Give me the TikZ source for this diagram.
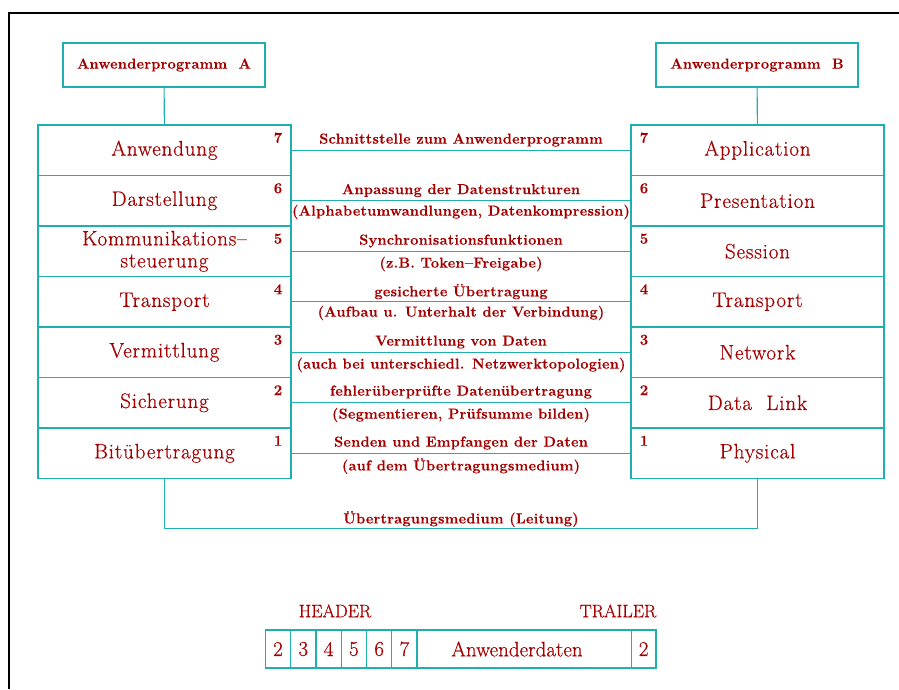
\documentclass[tikz,border=0pt]{standalone}
\usepackage{fontspec}
\setmainfont{Latin Modern Roman}
\newfontfamily\bigf[LetterSpace=4,FakeBold=0.6]{Latin Modern Roman}
\newfontfamily\smf[LetterSpace=2,FakeBold=0.4]{Latin Modern Roman}
\newfontfamily\cellf[FakeBold=0.5]{Latin Modern Roman}
\definecolor{tred}{RGB}{165,0,0}
\definecolor{teal1}{RGB}{30,175,175}
\begin{document}
\begin{tikzpicture}[x=1pt,y=-1pt,
 lay/.style={draw=teal1, line width=1.1pt, minimum width=253pt, minimum height=50.5pt, inner sep=0pt, font=\bigf\fontsize{21}{21}\selectfont, text=tred, align=center},
 app/.style={draw=teal1, line width=1.1pt, minimum width=202pt, minimum height=44pt, inner sep=0pt, font=\smf\bfseries\fontsize{14.5}{16}\selectfont, text=tred},
 lbl/.style={font=\smf\bfseries\fontsize{14.5}{16}\selectfont, text=tred, inner sep=0pt},
 num/.style={font=\smf\bfseries\fontsize{15}{16}\selectfont, text=tred, inner sep=0pt},
 conn/.style={draw=teal1, line width=1.1pt},
 cell/.style={draw=teal1, line width=1.1pt, minimum height=38pt, inner sep=0pt, font=\cellf\fontsize{21}{22}\selectfont, text=tred},
 hdr/.style={font=\cellf\fontsize{18}{20}\selectfont, text=tred, inner sep=0pt}]
\useasboundingbox (0,0) rectangle (899,689);
% frame
\coordinate (fr1) at (9,689);
\coordinate (fr2) at (9,13);
\coordinate (fr3) at (899,13);
\draw[line width=2pt] (fr1) -- (fr2) -- (fr3);
% application programs
\node[app] (appA) at (164,65) {Anwenderprogramm\ \ A};
\node[app] (appB) at (757,65) {Anwenderprogramm\ \ B};
% layers
\foreach \k/\lt/\rt in {7/Anwendung/Application, 6/Darstellung/Presentation, 5/{Kommunikations–\\[1pt]steuerung}/Session, 4/Transport/Transport, 3/Vermittlung/Network, 2/Sicherung/Data\ \ Link, 1/Bitübertragung/Physical}{
  \pgfmathsetmacro{\cy}{125+50.5*(7-\k)+25.25}
  \node[lay] (L\k) at (164.5,\cy) {\lt};
  \node[lay] (R\k) at (757.5,\cy) {\rt};
  \node[num] (nl\k) at (278,\cy-12.5) {\k};
  \node[num] (nr\k) at (644,\cy-12.5) {\k};
  \coordinate (ml\k) at (L\k.east |- 0,\cy);
  \coordinate (mr\k) at (R\k.west |- 0,\cy);
  \draw[conn] (ml\k) -- (mr\k);
}
\draw[conn] (appA) -- (L7);
\draw[conn] (appB) -- (R7);
% middle labels
\node[lbl] (t7a) at (461,140) {Schnittstelle zum Anwenderprogramm};
\node[lbl] (t6a) at (461,190.5) {Anpassung der Datenstrukturen};
\node[lbl] (t6b) at (461,212) {(Alphabetumwandlungen, Datenkompression)};
\node[lbl] (t5a) at (461,241) {Synchronisationsfunktionen};
\node[lbl] (t5b) at (461,264) {(z.B. Token–Freigabe)};
\node[lbl] (t4a) at (461,291.5) {gesicherte Übertragung};
\node[lbl] (t4b) at (461,313) {(Aufbau u. Unterhalt der Verbindung)};
\node[lbl] (t3a) at (461,342) {Vermittlung von Daten};
\node[lbl] (t3b) at (461,365) {(auch bei unterschiedl. Netzwerktopologien)};
\node[lbl] (t2a) at (461,392) {fehlerüberprüfte Datenübertragung};
\node[lbl] (t2b) at (461,415) {(Segmentieren, Prüfsumme bilden)};
\node[lbl] (t1a) at (461,443) {Senden und Empfangen der Daten};
\node[lbl] (t1b) at (461,466) {(auf dem Übertragungsmedium)};
% medium
\coordinate (mA) at (164.5,528.5);
\coordinate (mB) at (757.5,528.5);
\draw[conn] (L1.south) -- (mA) -- (mB) -- (R1.south);
\node[lbl] (med) at (461,519) {Übertragungsmedium (Leitung)};
% frame of packet
\node[hdr] (hd) at (335,611) {HEADER};
\node[hdr] (tr) at (618,611) {TRAILER};
\foreach \i/\d/\xx in {1/2/278, 2/3/303.3, 3/4/328.6, 4/5/353.9, 5/6/379.2, 6/7/404.4}{
  \node[cell, minimum width=25.3pt] (c\i) at (\xx,649) {\d};
}
\node[cell, minimum width=214.6pt] (cdat) at (524,649) {};
\node[hdr, font=\cellf\fontsize{21}{22}\selectfont] (dtxt) at (517,649) {Anwenderdaten};
\node[cell, minimum width=24.7pt] (ctr) at (643.65,649) {2};
\end{tikzpicture}
\end{document}
